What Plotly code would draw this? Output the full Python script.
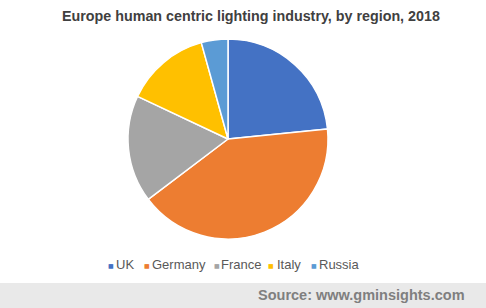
import plotly.graph_objects as go

regions = ["UK", "Germany", "France", "Italy", "Russia"]
shares = [23.4, 41.3, 17.3, 13.7, 4.3]
colors = ["#4472C4", "#ED7D31", "#A5A5A5", "#FFC000", "#5B9BD5"]
title_text = "Europe human centric lighting industry, by region, 2018"
source_text = "Source: www.gminsights.com"

W, H = 486, 308
cx, cy, r = 228, 139, 100

fig = go.Figure()
fig.add_trace(go.Pie(
    labels=regions, values=shares, sort=False, direction="clockwise", rotation=0,
    marker=dict(colors=colors, line=dict(color="white", width=1.5)),
    textinfo="none", hoverinfo="label+percent", showlegend=False,
    domain=dict(x=[(cx - r) / W, (cx + r) / W], y=[1 - (cy + r) / H, 1 - (cy - r) / H]),
))

# legend as annotations
marker_x = [106, 142, 212, 266, 309]
text_x = [114, 150, 219, 275, 317]
annotations = []
for lab, col, mx, tx in zip(regions, colors, marker_x, text_x):
    annotations.append(dict(
        x=mx / W, y=1 - 265 / H, xref="paper", yref="paper", xanchor="left", yanchor="middle",
        text="■", showarrow=False, font=dict(family="DejaVu Sans", size=6, color=col),
    ))
    annotations.append(dict(
        x=tx / W, y=1 - 264 / H, xref="paper", yref="paper", xanchor="left", yanchor="middle",
        text=lab, showarrow=False,
        font=dict(family="Liberation Sans, Arial", size=13, color="#595959"),
    ))
annotations.append(dict(
    x=251 / W, y=1 - 16 / H, xref="paper", yref="paper", xanchor="center", yanchor="middle",
    text=f"<b>{title_text}</b>", showarrow=False,
    font=dict(family="Liberation Sans, Arial", size=14.3, color="#404040"),
))
annotations.append(dict(
    x=467 / W, y=1 - 295 / H, xref="paper", yref="paper", xanchor="right", yanchor="middle",
    text=f"<b>{source_text}</b>", showarrow=False,
    font=dict(family="Liberation Sans, Arial", size=14.5, color="#7f7f7f"),
))

fig.update_layout(
    width=W, height=H, margin=dict(l=0, r=0, t=0, b=0),
    paper_bgcolor="white", plot_bgcolor="white",
    annotations=annotations,
    shapes=[dict(type="rect", xref="paper", yref="paper", x0=0, x1=1, y0=0, y1=1 - 283 / H,
                 fillcolor="#e9e9e9", line=dict(width=0), layer="below")],
)
fig.write_html("out.html")
